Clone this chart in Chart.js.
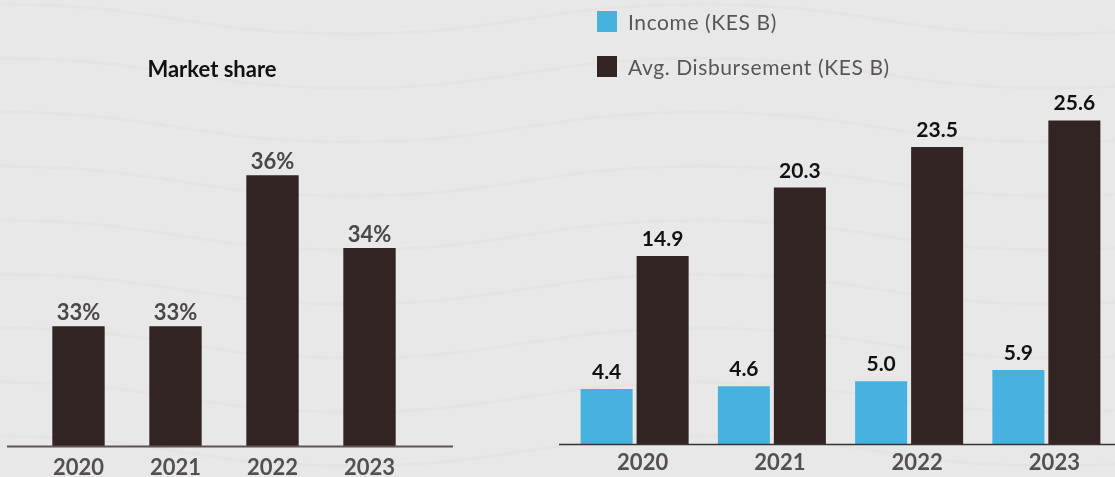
<!DOCTYPE html>
<html>
<head>
<meta charset="utf-8">
<script src="https://cdn.jsdelivr.net/npm/chart.js@4.4.1/dist/chart.umd.min.js"></script>
<style>
  html, body { margin: 0; padding: 0; }
  body {
    width: 1115px; height: 477px; overflow: hidden; position: relative;
    background-color: #e9e8e8;
    background-image: url("data:image/svg+xml;utf8,<svg xmlns='http://www.w3.org/2000/svg' width='700' height='54'><path d='M-10 4 C 170 4, 190 34, 350 34 S 540 4, 710 4' fill='none' stroke='%23e5e3e3' stroke-width='3'/></svg>");
    background-repeat: repeat;
    font-family: Lato, "Open Sans", sans-serif;
  }
  #share { position: absolute; left: 0; top: 0; }
  #money { position: absolute; left: 559px; top: 0; }
  #legend { position: absolute; left: 597px; top: 11px; }
  .item { display: flex; align-items: center; height: 21px; margin-bottom: 24px; }
  .swatch { width: 20px; height: 21px; margin-right: 11px; }
  .item span { font-size: 21px; letter-spacing: 0.6px; color: #5a5555; }
</style>
</head>
<body>
<canvas id="share" width="460" height="490"></canvas>
<canvas id="money" width="556" height="481"></canvas>
<div id="legend"></div>
<script>
const years = ["2020", "2021", "2022", "2023"];
// labels read 33%, 33%, 36%, 34%; bar heights suggest these underlying values
const marketShare = [33.0, 33.0, 35.7, 34.4];
const income = [4.4, 4.6, 5.0, 5.9];
const avgDisbursement = [14.9, 20.3, 23.5, 25.6];

const dark = "#322423";
const blue = "#47b2df";

const valueLabels = {
    id: "valueLabels",
    afterDatasetsDraw(chart, args, opts) {
        const ctx = chart.ctx;
        ctx.save();
        ctx.font = opts.font;
        ctx.fillStyle = opts.color;
        ctx.textAlign = "center";
        ctx.textBaseline = "alphabetic";
        chart.data.datasets.forEach((ds, i) => {
            chart.getDatasetMeta(i).data.forEach((bar, j) => {
                ctx.fillText(ds.data[j].toFixed(opts.decimals) + opts.suffix, bar.x, bar.y - opts.offset);
            });
        });
        ctx.restore();
    }
};

const baseLine = {
    id: "baseLine",
    afterDraw(chart, args, opts) {
        const ctx = chart.ctx;
        const y = chart.chartArea.bottom;
        ctx.save();
        ctx.strokeStyle = opts.color;
        ctx.lineWidth = opts.width;
        ctx.beginPath();
        ctx.moveTo(opts.from, y);
        ctx.lineTo(opts.to, y);
        ctx.stroke();
        ctx.restore();
    }
};

const sideTitle = {
    id: "sideTitle",
    afterDraw(chart, args, opts) {
        if (!opts.text) return;
        const ctx = chart.ctx;
        ctx.save();
        ctx.font = opts.font;
        ctx.fillStyle = opts.color;
        ctx.textAlign = "center";
        ctx.textBaseline = "middle";
        ctx.fillText(opts.text, opts.x, opts.y);
        ctx.restore();
    }
};

const tickFont = { family: "Lato", size: 22, weight: "bold" };

new Chart(document.getElementById("share"), {
    type: "bar",
    data: {
        labels: years,
        datasets: [{
            label: "Market share",
            data: marketShare,
            backgroundColor: dark,
            categoryPercentage: 0.54,
            barPercentage: 1
        }]
    },
    options: {
        responsive: false,
        animation: false,
        devicePixelRatio: 1,
        layout: { padding: { top: 108, left: 30, right: 42, bottom: 0 } },
        scales: {
            x: {
                grid: { display: false, drawTicks: false },
                border: { display: false },
                ticks: { font: tickFont, color: "#555050", padding: 8.5 }
            },
            y: { display: false, min: 30.85, max: 36.9 }
        },
        plugins: {
            legend: { display: false },
            tooltip: { enabled: false },
            valueLabels: { font: "bold 22px Lato", color: "#4a4747", decimals: 0, suffix: "%", offset: 6 },
            baseLine: { color: "#5e5353", width: 2, from: 7, to: 453 },
            sideTitle: { text: "Market share", font: "bold 22px Lato", color: "#111111", x: 212, y: 70 }
        }
    },
    plugins: [valueLabels, baseLine, sideTitle]
});

const moneyChart = new Chart(document.getElementById("money"), {
    type: "bar",
    data: {
        labels: years,
        datasets: [{
            label: "Income (KES B)",
            data: income,
            backgroundColor: blue,
            categoryPercentage: 0.816,
            barPercentage: 0.929
        }, {
            label: "Avg. Disbursement (KES B)",
            data: avgDisbursement,
            backgroundColor: dark,
            categoryPercentage: 0.816,
            barPercentage: 0.929
        }]
    },
    options: {
        responsive: false,
        animation: false,
        devicePixelRatio: 1,
        layout: { padding: { top: 90, left: 7, right: 0, bottom: 0 } },
        scales: {
            x: {
                grid: { display: false, drawTicks: false },
                border: { display: false },
                ticks: { font: tickFont, color: "#555050", padding: 5, labelOffset: 8 }
            },
            y: { display: false, min: 0, max: 28 }
        },
        plugins: {
            legend: { display: false },
            tooltip: { enabled: false },
            valueLabels: { font: "bold 21px Lato", color: "#111111", decimals: 1, suffix: "", offset: 10 },
            baseLine: { color: "#3a3131", width: 1.5, from: 0, to: 556 }
        }
    },
    plugins: [valueLabels, baseLine]
});

// html legend built from the datasets
const legendBox = document.getElementById("legend");
moneyChart.data.datasets.forEach(ds => {
    const row = document.createElement("div");
    row.className = "item";
    const sw = document.createElement("div");
    sw.className = "swatch";
    sw.style.background = ds.backgroundColor;
    const txt = document.createElement("span");
    txt.textContent = ds.label;
    row.appendChild(sw);
    row.appendChild(txt);
    legendBox.appendChild(row);
});
</script>
</body>
</html>
